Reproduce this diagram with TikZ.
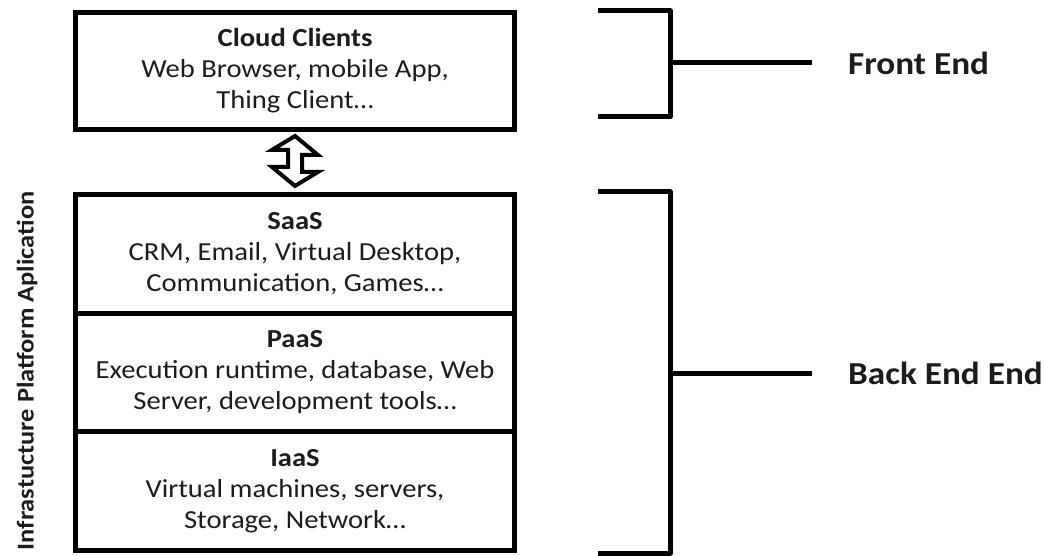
\documentclass[tikz,border=0pt]{standalone}
\usepackage{fontspec}
\setmainfont{Carlito}[FakeStretch=1.1]
\usetikzlibrary{calc}
\definecolor{ink}{HTML}{1C1C1C}
\begin{document}
\begin{tikzpicture}[x=1pt,y=-1pt,
  layer/.style={draw=black, line width=5pt, minimum width=439pt, align=center,
    inner sep=0pt, text=ink, font=\fontsize{26}{31}\selectfont},
  brace/.style={draw=black, line width=5pt, line join=round},
  tag/.style={anchor=west, inner sep=0pt, text=ink, font=\fontsize{32}{36}\selectfont\bfseries}]
\useasboundingbox (0,0) rectangle (1045,556);

% client tier
\node[layer, minimum height=117pt] (cc) at (295,71)
  {\textbf{Cloud Clients}\\Web Browser, mobile App,\\Thing Client…};

% service stack
\node[layer, minimum height=118.7pt] (saas) at (295,253.8)
  {\textbf{SaaS}\\CRM, Email,\ Virtual Desktop,\\Communication, Games…};
\node[layer, minimum height=118.7pt] (paas) at (295,372.5)
  {\textbf{PaaS}\\Execution runtime, database,\ Web\\Server, development tools…};
\node[layer, minimum height=118.7pt] (iaas) at (295,491.2)
  {\textbf{IaaS}\\Virtual machines, servers,\\Storage, Network…};

% two-way hollow arrow between the tiers
\draw[line width=4pt, fill=white, line join=miter]
  ($(cc.south)+(0,4)$) -- ++(23,19) -- ++(-16,0) -- ++(0,17) -- ++(16,0)
  -- ($(saas.north)+(0,-6)$) -- ++(-23,-19) -- ++(16,0) -- ++(0,-17) -- ++(-16,0) -- cycle;

% side label
\node[rotate=90, inner sep=0pt, text=ink, font=\fontsize{24}{29}\selectfont\bfseries]
  (infra) at (27,371) {Infrastucture Platform Aplication};

% front end bracket
\coordinate (f1) at (598,11);
\coordinate (f2) at (598,117);
\node[tag] (front) at (848,63) {Front End};
\draw[brace] (f1) -- (670,11) -- (670,117) -- (f2);
\draw[brace] (670,63) -- ($(front.west)+(-36,0)$);

% back end bracket
\coordinate (b1) at (598,192);
\coordinate (b2) at (598,553);
\node[tag] (back) at (848,373) {Back End End};
\draw[brace] (b1) -- (670,192) -- (670,553) -- (b2);
\draw[brace] (670,373) -- ($(back.west)+(-36,0)$);
\end{tikzpicture}
\end{document}
